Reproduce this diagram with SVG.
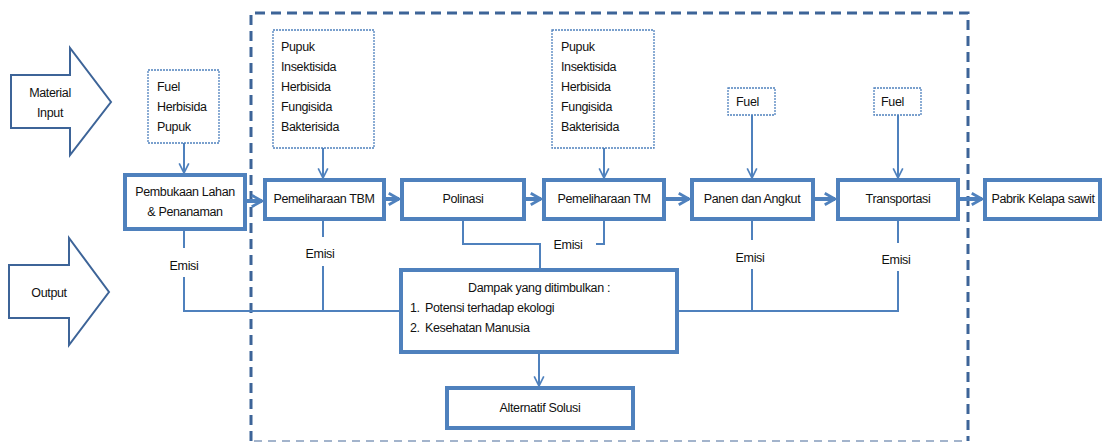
<svg xmlns="http://www.w3.org/2000/svg" width="1105" height="442" viewBox="0 0 1105 442">
<defs>
<style>
text{font-family:"Liberation Sans",Arial,sans-serif;font-size:12.5px;letter-spacing:-0.35px;fill:#111}
.main{fill:#fff;stroke:#4f81bd;stroke-width:4}
.inp{fill:#fff;stroke:#4f81bd;stroke-width:1.3;stroke-dasharray:2 1}
.big{fill:#fff;stroke:#3d6498;stroke-width:2}
.thick{fill:none;stroke:#4f81bd;stroke-width:4}
.thin{fill:none;stroke:#4f81bd;stroke-width:2}
.c{text-anchor:middle}
</style>
<marker id="ah" viewBox="0 0 10 10" refX="9" refY="5" markerWidth="3.2" markerHeight="3.4" orient="auto" markerUnits="strokeWidth">
<path d="M1,0.5 L9,5 L1,9.5" fill="none" stroke="#4f81bd" stroke-width="2.2"/>
</marker>
<marker id="at" viewBox="0 0 10 10" refX="9" refY="5" markerWidth="6" markerHeight="6" orient="auto" markerUnits="strokeWidth">
<path d="M1,1 L9,5 L1,9" fill="none" stroke="#4f81bd" stroke-width="1.4"/>
</marker>
</defs>
<rect width="1105" height="442" fill="#fff"/>

<g id="boundary">
<path d="M251,441 V13 H968 V441" fill="none" stroke="#3d6498" stroke-width="3" stroke-dasharray="10 6"/>
<path d="M254,441 H968" fill="none" stroke="#a3b4cc" stroke-width="2" stroke-dasharray="8 6"/>
</g>

<g id="material-input">
<path class="big" d="M11,75 H70 V48 L111,102 L70,155 V128 H11 Z"/>
<text class="c" x="50" y="97">Material</text>
<text class="c" x="50" y="117">Input</text>
</g>
<g id="output">
<path class="big" d="M9,265 H69 V238 L109,292 L69,345 V318 H9 Z"/>
<text class="c" x="49" y="297">Output</text>
</g>

<g id="connectors">
<path class="thin" d="M184,143 V173" marker-end="url(#at)"/>
<path class="thin" d="M323,148 V178" marker-end="url(#at)"/>
<path class="thin" d="M604,148 V178" marker-end="url(#at)"/>
<path class="thin" d="M752,115 V178" marker-end="url(#at)"/>
<path class="thin" d="M898,115 V178" marker-end="url(#at)"/>
<path class="thick" d="M245,201 H262" marker-end="url(#ah)"/>
<path class="thick" d="M384,199 H399" marker-end="url(#ah)"/>
<path class="thick" d="M524,199 H541" marker-end="url(#ah)"/>
<path class="thick" d="M664,199 H689" marker-end="url(#ah)"/>
<path class="thick" d="M813,199 H835" marker-end="url(#ah)"/>
<path class="thick" d="M958,199 H982" marker-end="url(#ah)"/>
<path class="thin" d="M184,229 V248 M184,277 V311 H401"/>
<path class="thin" d="M323,219 V237 M323,266 V311"/>
<path class="thin" d="M463,219 V244 H540 V270 M596,244 H604 V219"/>
<path class="thin" d="M677,311 H898 V271 M898,243 V219"/>
<path class="thin" d="M752,219 V240 M752,269 V311"/>
<path class="thin" d="M539,352 V386" marker-end="url(#at)"/>
<text x="184" y="270" class="c">Emisi</text>
<text x="320" y="258" class="c">Emisi</text>
<text x="568" y="249" class="c">Emisi</text>
<text x="750" y="262" class="c">Emisi</text>
<text x="896" y="264" class="c">Emisi</text>
</g>

<g id="input-pembukaan">
<rect class="inp" x="148" y="70" width="71" height="73"/>
<text x="157" y="91">Fuel</text>
<text x="157" y="111">Herbisida</text>
<text x="157" y="131">Pupuk</text>
</g>
<g id="input-tbm">
<rect class="inp" x="273" y="30" width="101" height="118"/>
<text x="281" y="51">Pupuk</text>
<text x="281" y="71">Insektisida</text>
<text x="281" y="91">Herbisida</text>
<text x="281" y="111">Fungisida</text>
<text x="281" y="131">Bakterisida</text>
</g>
<g id="input-tm">
<rect class="inp" x="552" y="30" width="102" height="118"/>
<text x="561" y="51">Pupuk</text>
<text x="561" y="71">Insektisida</text>
<text x="561" y="91">Herbisida</text>
<text x="561" y="111">Fungisida</text>
<text x="561" y="131">Bakterisida</text>
</g>
<g id="input-panen">
<rect class="inp" x="728" y="88" width="47" height="27"/>
<text x="736" y="106">Fuel</text>
</g>
<g id="input-transport">
<rect class="inp" x="874" y="88" width="47" height="27"/>
<text x="881" y="106">Fuel</text>
</g>

<g id="pembukaan">
<rect class="main" x="125" y="175" width="120" height="54"/>
<text class="c" x="185" y="196">Pembukaan Lahan</text>
<text class="c" x="185" y="216">&amp; Penanaman</text>
</g>
<g id="tbm">
<rect class="main" x="265" y="180" width="119" height="39"/>
<text class="c" x="324" y="203">Pemeliharaan TBM</text>
</g>
<g id="polinasi">
<rect class="main" x="402" y="180" width="122" height="39"/>
<text class="c" x="463" y="203">Polinasi</text>
</g>
<g id="tm">
<rect class="main" x="544" y="180" width="120" height="39"/>
<text class="c" x="604" y="203">Pemeliharaan TM</text>
</g>
<g id="panen">
<rect class="main" x="692" y="180" width="121" height="39"/>
<text class="c" x="752" y="203">Panen dan Angkut</text>
</g>
<g id="transportasi">
<rect class="main" x="838" y="180" width="120" height="39"/>
<text class="c" x="898" y="203">Transportasi</text>
</g>
<g id="pabrik">
<rect class="main" x="985" y="180" width="115" height="39"/>
<text class="c" x="1043" y="203">Pabrik Kelapa sawit</text>
</g>
<g id="dampak">
<rect class="main" x="401" y="270" width="276" height="82"/>
<text class="c" x="539" y="292">Dampak yang ditimbulkan :</text>
<text x="410" y="312">1.</text>
<text x="425" y="312">Potensi terhadap ekologi</text>
<text x="410" y="332">2.</text>
<text x="425" y="332">Kesehatan Manusia</text>
</g>
<g id="alternatif">
<rect class="main" x="447" y="388" width="186" height="40"/>
<text class="c" x="540" y="412">Alternatif Solusi</text>
</g>
</svg>
